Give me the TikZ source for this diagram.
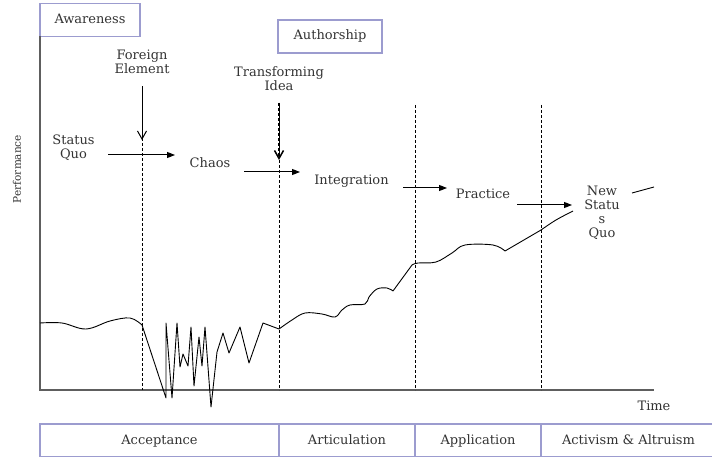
\documentclass[tikz,border=0pt]{standalone}
\usepackage{fontspec}
\setmainfont{DejaVu Serif}
\usetikzlibrary{positioning, arrows.meta}
\definecolor{boxline}{HTML}{9C9CCF}
\definecolor{axisgray}{HTML}{5E5E5E}
\definecolor{textgray}{HTML}{333333}

\begin{document}
\begin{tikzpicture}[x=1pt, y=-1pt,
        font=\fontsize{13}{14}\selectfont, text=textgray,
        stage/.style={draw=boxline, line width=1.2pt, minimum height=33pt, inner sep=0pt, outer sep=0pt,
            text height=9.5pt, text depth=2.5pt},
        phase/.style={stage, minimum height=33pt},
        note/.style={align=center, inner sep=0pt},
        divider/.style={line width=1pt, dash pattern=on 3pt off 2pt},
        flow/.style={line width=1pt, -{Triangle[length=8pt, width=6pt]}},
        drop/.style={line width=1pt, -{Straight Barb[length=8pt, width=9pt]}},
        axis/.style={axisgray, line width=1.6pt},
        perf/.style={line width=0.9pt, line join=round}]
    \useasboundingbox (0,0) rectangle (712,457);

    % stages on top
    \node [stage, minimum width=100pt] (aware) at (90,20) {Awareness};
    \node [stage, minimum width=104pt] (author) at (330,36.5) {Authorship};

    % phases below the time axis
    \node [phase, minimum width=239pt, anchor=north west] (accept) at (40,424) {Acceptance};
    \node [phase, minimum width=136pt, right=0pt of accept] (artic) {Articulation};
    \node [phase, minimum width=126pt, right=0pt of artic] (applic) {Application};
    \node [phase, minimum width=175pt, right=0pt of applic] (activ) {Activism \& Altruism};

    % axes
    \coordinate (origin) at (40,390);
    \coordinate (xend) at (654,390);
    \draw [axis] (aware.south west) -- (origin) -- (xend);
    \node [rotate=90, inner sep=0pt, font=\fontsize{10.5}{12}\selectfont] (perfaxis) at (17,169) {Performance};
    \node [note] (time) at (654,406) {Time};

    % dashed dividers
    \coordinate (d1) at (142,88);
    \coordinate (d2) at (279,105);
    \coordinate (d3) at (415,105);
    \coordinate (d4) at (541,105);
    \foreach \d in {d1,d2,d3,d4}
        \draw [divider] (\d) -- (\d |- origin);

    % labels
    \node [note] (fe) at (142,62) {Foreign\\Element};
    \node [note] (ti) at (279,78.5) {Transforming\\Idea};
    \node [note] (sq) at (73.5,147.5) {Status\\Quo};
    \node [note] (chaos) at (210,163) {Chaos};
    \node [note] (integ) at (351.5,181) {Integration};
    \node [note] (prac) at (483,194) {Practice};
    \node [note] (nsq) at (602,213) {New\\Statu\\s\\Quo};

    % events
    \coordinate (fehit) at (142,140);
    \coordinate (tihit) at (279,160);
    \draw [drop, shorten <=12pt] (fe) -- (fehit);
    \draw [drop, line width=1.5pt, dash pattern=on 3pt off 2pt, shorten <=12pt] (ti) -- (tihit);

    % transitions
    \draw [flow] ([shift={(34.5,7.5)}]sq.center) -- ([shift={(-35,-8)}]chaos.center);
    \draw [flow] ([shift={(34,9)}]chaos.center) -- ([shift={(-51.5,-9)}]integ.center);
    \draw [flow] ([shift={(51.5,7)}]integ.center) -- ([shift={(-36,-6)}]prac.center);
    \draw [flow] ([shift={(34,11)}]prac.center) -- ([shift={(-30,-8)}]nsq.center);

    % performance curve
    \draw [perf] plot [smooth, tension=0.6] coordinates {(40,323) (62,323) (86,329) (110,321) (130,318) (142,325)}
        -- (166,398) -- (166,323) -- (172,398) -- (177,323) -- (180,367) -- (183,354)
        -- (188,366) -- (191,327) -- (194,386) -- (199,337) -- (202,366) -- (205,327)
        -- (211,407) -- (217,352) -- (223,333) -- (229,353) -- (240,327) -- (249,363)
        -- (263,323) -- (279,329);
    \draw [perf] plot [smooth, tension=0.6] coordinates {(279,329) (292,320) (305,313) (322,314)
        (335,317) (342,310) (350,305) (365,304) (369,297) (377,289) (387,288) (393,291)};
    \draw [perf] (393,291) -- (412,265);
    \draw [perf] plot [smooth, tension=0.6] coordinates {(412,265) (418,263) (436,262)
        (452,253) (465,245) (493,245) (505,251)};
    \draw [perf] (505,251) -- (541,230);
    \draw [perf] plot [smooth, tension=0.6] coordinates {(541,230) (556,220) (573,211)};
    \draw [perf] (632,193) -- (654,187);
\end{tikzpicture}
\end{document}
